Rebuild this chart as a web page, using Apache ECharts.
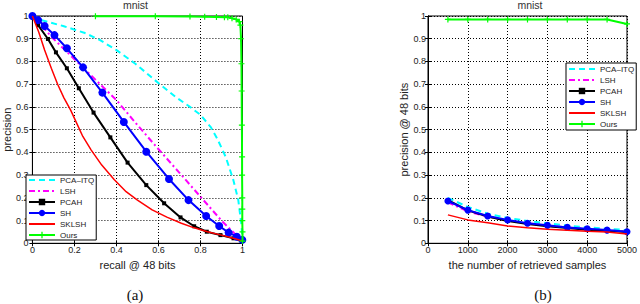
<!DOCTYPE html>
<html><head><meta charset="utf-8">
<script src="https://cdn.jsdelivr.net/npm/echarts@6/dist/echarts.min.js"></script>
<style>html,body{margin:0;padding:0;background:#fff}#c{width:640px;height:304px}</style>
</head><body><div id="c"></div>
<script>
// ---- Data: (a) precision-recall @ 48 bits, [recall, precision]
var methods = ['PCA–ITQ', 'LSH', 'PCAH', 'SH', 'SKLSH', 'Ours'];
var prPcaItq = [[0,1],[0.05,0.98],[0.15,0.955],[0.25,0.925],[0.32,0.895],[0.4,0.85],[0.49,0.79],[0.58,0.72],[0.68,0.645],[0.75,0.6],[0.8,0.565],[0.85,0.51],[0.88,0.46],[0.92,0.38],[0.956,0.28],[0.98,0.19],[0.995,0.08],[1,0.01]];
var prLsh = [[0,1],[0.1,0.9],[0.2,0.81],[0.3,0.72],[0.4,0.63],[0.5,0.52],[0.585,0.43],[0.7,0.31],[0.8,0.205],[0.9,0.1],[0.96,0.045],[1,0.01]];
var prPcah = [[0,1],[0.027,0.96],[0.074,0.899],[0.112,0.84],[0.164,0.77],[0.221,0.682],[0.291,0.575],[0.371,0.466],[0.453,0.355],[0.542,0.256],[0.627,0.176],[0.705,0.114],[0.77,0.075],[0.83,0.051],[0.895,0.036],[0.957,0.022],[1,0.01]];
var prSh = [[0,1],[0.027,0.982],[0.058,0.956],[0.105,0.916],[0.164,0.858],[0.241,0.774],[0.333,0.663],[0.435,0.534],[0.542,0.403],[0.65,0.283],[0.743,0.19],[0.827,0.12],[0.889,0.076],[0.934,0.047],[0.973,0.029],[0.999,0.015]];
var prSklsh = [[0,1],[0.03,0.93],[0.058,0.85],[0.09,0.77],[0.12,0.7],[0.15,0.64],[0.182,0.586],[0.21,0.53],[0.24,0.47],[0.28,0.41],[0.33,0.344],[0.39,0.28],[0.446,0.227],[0.5,0.19],[0.57,0.147],[0.64,0.115],[0.709,0.088],[0.77,0.068],[0.833,0.051],[0.9,0.036],[0.957,0.022],[1,0.01]];
var prOurs = [[0.3,0.999],[0.585,0.999],[0.75,0.998],[0.82,0.997],[0.876,0.996],[0.914,0.995],[0.93,0.994],[0.95,0.99],[0.97,0.985],[0.985,0.975],[0.99,0.96],[0.993,0.9],[0.995,0.79],[0.996,0.67],[0.997,0.52],[0.998,0.38],[0.998,0.3],[0.999,0.2],[0.999,0.15],[0.999,0.1],[1,0.05],[1,0.01]];

// ---- Data: (b) precision @ 48 bits vs number of retrieved samples
var retrieved = [500,1000,1500,2000,2500,3000,3500,4000,4500,5000];
var pnPcaItq = [0.2,0.16,0.13,0.112,0.098,0.088,0.078,0.07,0.064,0.058];
var pnLsh    = [0.18,0.14,0.118,0.1,0.088,0.078,0.07,0.063,0.057,0.052];
var pnPcah   = [0.19,0.145,0.118,0.098,0.085,0.075,0.067,0.06,0.055,0.05];
var pnSh     = [0.186,0.146,0.12,0.103,0.088,0.079,0.07,0.064,0.058,0.051];
var pnSklsh  = [0.125,0.103,0.09,0.076,0.068,0.062,0.057,0.053,0.05,0.041];
var pnOurs   = [0.985,0.985,0.985,0.985,0.985,0.985,0.985,0.985,0.985,0.965];

var yTicks = [0,0.1,0.2,0.3,0.4,0.5,0.6,0.7,0.8,0.9,1];
var xTicksA = [0,0.2,0.4,0.6,0.8,1];
var xTicksB = [0,1000,2000,3000,4000,5000];

var FONT = "'Liberation Sans', Arial, Helvetica, sans-serif";
var TXT = '#222';
var colors = ['#00ffff','#ff00ff','#000000','#0000ff','#ff0000','#00ff00'];
var plusPath = 'path://M4,0h2v4h4v2h-4v4h-2v-4h-4v-2h4z';

function pairs(xs, ys){ return xs.map(function(x,i){ return [x, ys[i]]; }); }

function styleFor(i, big){
  var s = {};
  if (i === 0) { s.lineStyle = {color: colors[0], width: 2, type: [6,4]}; s.symbol = 'none'; }
  if (i === 1) { s.lineStyle = {color: colors[1], width: 2, type: [6,3,2,3]}; s.symbol = 'none'; }
  if (i === 2) { s.lineStyle = {color: colors[2], width: 2}; s.symbol = 'rect'; s.symbolSize = 4; }
  if (i === 3) { s.lineStyle = {color: colors[3], width: 2}; s.symbol = 'circle'; s.symbolSize = big ? 8 : 7; }
  if (i === 4) { s.lineStyle = {color: colors[4], width: 1.5}; s.symbol = 'none'; }
  if (i === 5) { s.lineStyle = {color: colors[5], width: 2}; s.symbol = plusPath; s.symbolSize = 6; }
  s.itemStyle = {color: colors[i]};
  return s;
}

var seriesA = [prPcaItq, prLsh, prPcah, prSh, prSklsh, prOurs];
var seriesB = [pnPcaItq, pnLsh, pnPcah, pnSh, pnSklsh, pnOurs];

var series = [];
seriesA.forEach(function(d, i){
  var s = styleFor(i, true);
  series.push(Object.assign({type:'line', name: methods[i], data: d, xAxisIndex:0, yAxisIndex:0,
    showSymbol: s.symbol !== 'none', animation:false, z: 3 + i, clip: true}, s));
});
seriesB.forEach(function(d, i){
  var s = styleFor(i, false);
  series.push(Object.assign({type:'line', name: methods[i], data: pairs(retrieved, d), xAxisIndex:2, yAxisIndex:2,
    showSymbol: s.symbol !== 'none', animation:false, z: 3 + i, clip: true}, s));
});

function xAxis(grid, ticks, name, extra){
  return Object.assign({
    type:'value', gridIndex: grid, min: ticks[0], max: ticks[ticks.length-1], interval: ticks[1]-ticks[0],
    name: name, nameLocation:'middle', nameGap: 12,
    nameTextStyle:{fontFamily: FONT, fontSize: 11, color: TXT},
    axisLine:{show:true, lineStyle:{color:'#000', width:1}},
    axisTick:{show:true, inside:true, length:3, lineStyle:{color:'#000'}},
    axisLabel:{fontFamily: FONT, fontSize: 9, color: TXT, margin: 2, formatter: function(v){ return String(v); }},
    splitLine:{show:true, lineStyle:{color:'#000', width:1, type:[1,2]}}
  }, extra || {});
}
function yAxis(grid, name, gap, margin, extra){
  return Object.assign({
    type:'value', gridIndex: grid, min: yTicks[0], max: yTicks[yTicks.length-1], interval: 0.1,
    name: name, nameLocation:'middle', nameGap: gap,
    nameTextStyle:{fontFamily: FONT, fontSize: 11, color: TXT},
    axisLine:{show:true, lineStyle:{color:'#000', width:1}},
    axisTick:{show:true, inside:true, length:3, lineStyle:{color:'#000'}},
    axisLabel:{fontFamily: FONT, fontSize: 9, color: TXT, margin: margin},
    splitLine:{show:true, lineStyle:{color:'#000', width:1, type:[1,2]}}
  }, extra || {});
}
var mirrorX = {position:'top', name:'', axisLabel:{show:false}, splitLine:{show:false}};
var mirrorY = {position:'right', name:'', axisLabel:{show:false}, splitLine:{show:false}};

// legend entries: hide the placeholder marker for series that have no markers
var legendData = methods.map(function(m, i){
  var noMarker = (i === 0 || i === 1 || i === 4);
  return noMarker ? {name: m, itemStyle: {opacity: 0}} : {name: m};
});

var legendBase = {
  orient:'vertical', backgroundColor:'#fff', borderColor:'#000', borderWidth:1,
  itemWidth: 26, itemHeight: 8, itemGap: 3,
  textStyle:{fontFamily: FONT, fontSize: 8, color: TXT},
  data: legendData
};

var option = {
  animation: false,
  grid: [
    {left: 27, top: 16, width: 215.5, height: 227.3, show:true, borderColor:'#000', borderWidth:1, backgroundColor:'#fff'},
    {left: 428, top: 16, width: 203.7, height: 227.3, show:true, borderColor:'#000', borderWidth:1, backgroundColor:'#fff'}
  ],
  xAxis: [
    xAxis(0, xTicksA, 'recall @ 48 bits'),
    xAxis(0, xTicksA, '', mirrorX),
    xAxis(1, xTicksB, 'the number of retrieved samples'),
    xAxis(1, xTicksB, '', mirrorX)
  ],
  yAxis: [
    yAxis(0, 'precision', 12, 4),
    yAxis(0, '', 0, 0, mirrorY),
    yAxis(1, 'precision @ 48 bits', 17, 2),
    yAxis(1, '', 0, 0, mirrorY)
  ],
  legend: [
    Object.assign({left: 26, top: 175, padding:[1,2,1,2]}, legendBase),
    Object.assign({left: 566, top: 63, padding:[2,2,2,2], itemGap: 3.5}, legendBase)
  ],
  graphic: [
    {type:'text', x:135.5, y:5, style:{text:'mnist', align:'center', verticalAlign:'middle', font:'10.5px ' + FONT, fill:'#333'}},
    {type:'text', x:530, y:5, style:{text:'mnist', align:'center', verticalAlign:'middle', font:'10.5px ' + FONT, fill:'#333'}},
    {type:'text', x:135, y:295, style:{text:'(a)', align:'center', verticalAlign:'middle', font:"15px 'Liberation Serif', 'Times New Roman', serif", fill:'#111'}},
    {type:'text', x:543, y:295, style:{text:'(b)', align:'center', verticalAlign:'middle', font:"15px 'Liberation Serif', 'Times New Roman', serif", fill:'#111'}}
  ],
  series: series
};

var chart = echarts.init(document.getElementById('c'), null, {renderer:'svg', width:640, height:304});
chart.setOption(option);
</script>
</body></html>
